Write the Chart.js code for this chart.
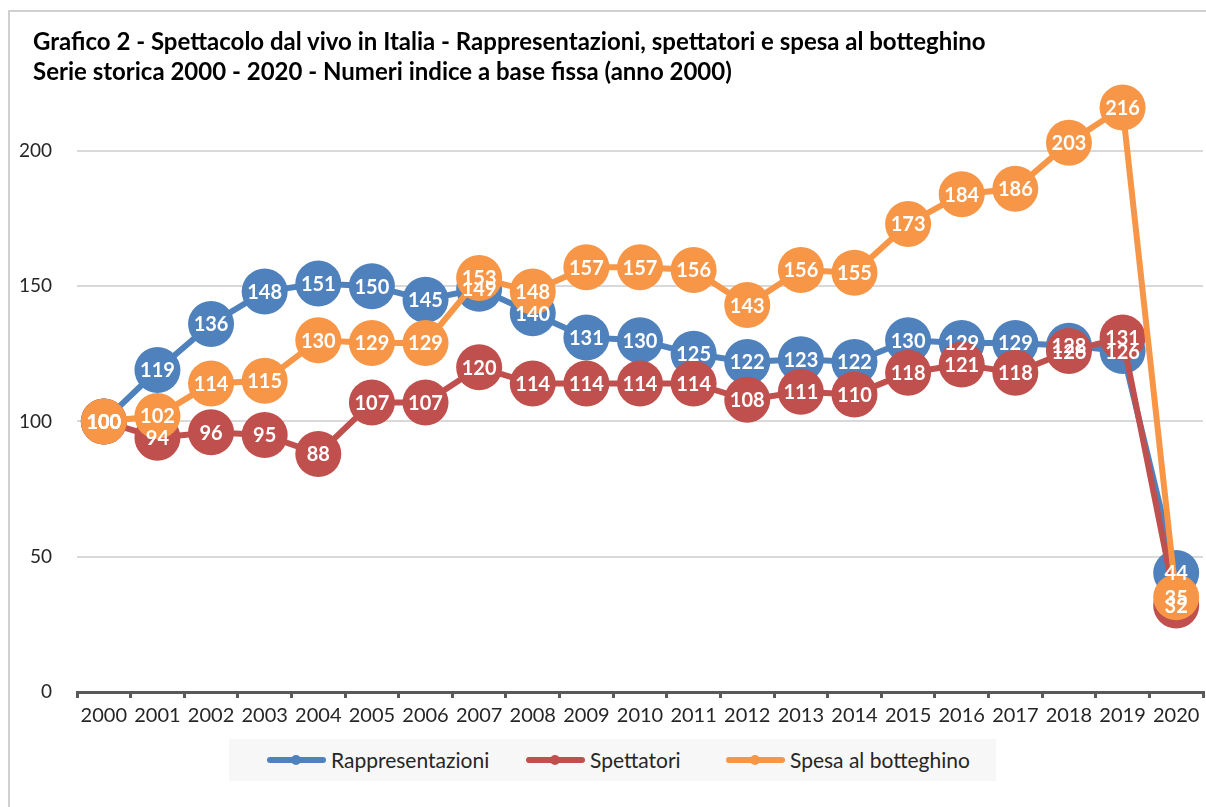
<!DOCTYPE html>
<html>
<head>
<meta charset="utf-8">
<script src="https://cdn.jsdelivr.net/npm/chart.js@4"></script>
<style>
  body { margin: 0; background: #fff; }
  #wrap { position: relative; width: 1206px; height: 807px; overflow: hidden; }
  #frame { position: absolute; left: 8px; top: 10px; width: 1300px; height: 900px;
           border-left: 2px solid #d0d0d0; border-top: 2px solid #d0d0d0; }
  #title { position: absolute; left: 33px; top: 26px; font-family: Lato, sans-serif;
           font-weight: bold; font-size: 24px; line-height: 30px; color: #000; z-index: 2;
           white-space: nowrap; }
  /* canvas shifted so the plot fills the frame like the original */
  canvas { position: absolute; left: 0; top: -10px; }
  #legend { position: absolute; left: 229px; top: 739px; width: 767px; height: 42px;
            background: #f7f7f7; font-family: Lato, sans-serif; font-size: 21px; color: #262626; }
  .item { position: absolute; top: 0; height: 42px; line-height: 42px; white-space: nowrap; }
  .mark { position: absolute; top: 18px; width: 59px; height: 6px; border-radius: 3px; }
  .mark i { position: absolute; left: 24px; top: -2px; width: 10px; height: 10px; border-radius: 5px; }
  .item span.txt { position: absolute; left: 64px; top: 0; }
</style>
</head>
<body>
<div id="wrap">
  <div id="frame"></div>
  <canvas id="lineChart" width="1226" height="817"></canvas>
  <div id="title">Grafico 2 - Spettacolo dal vivo in Italia - Rappresentazioni, spettatori e spesa al botteghino<br>Serie storica 2000 - 2020 - Numeri indice a base fissa (anno 2000)</div>
  <div id="legend"></div>
</div>
<script>
// anni sull'asse x
var years = ['2000','2001','2002','2003','2004','2005','2006','2007','2008','2009','2010',
             '2011','2012','2013','2014','2015','2016','2017','2018','2019','2020'];

// numeri indice (2000 = 100)
var rappresentazioni = [100,119,136,148,151,150,145,149,140,131,130,125,122,123,122,130,129,129,128,126,44];
var spettatori       = [100,94,96,95,88,107,107,120,114,114,114,114,108,111,110,118,121,118,126,131,32];
var spesaBotteghino  = [100,102,114,115,130,129,129,153,148,157,157,156,143,156,155,173,184,186,203,216,35];

var yTicks = [0, 50, 100, 150, 200];

// legend item x offsets inside the grey box
var legendOffsets = [38, 297, 497];

// Draws the white value inside each marker, after all series
var valueLabels = {
    id: 'valueLabels',
    afterDatasetsDraw: function(chart) {
        var ctx = chart.ctx;
        ctx.save();
        ctx.font = 'bold 20px Lato, sans-serif';
        ctx.fillStyle = '#ffffff';
        ctx.textAlign = 'center';
        ctx.textBaseline = 'middle';
        chart.data.datasets.forEach(function(ds, i) {
            chart.getDatasetMeta(i).data.forEach(function(pt, j) {
                ctx.fillText(ds.data[j], pt.x, pt.y + 1);
            });
        });
        ctx.restore();
    }
};

function makeSet(label, data, color, order) {
    return {
        label: label,
        data: data,
        borderColor: color,
        backgroundColor: color,
        pointBackgroundColor: color,
        pointBorderColor: color,
        borderWidth: 6,
        pointRadius: 23,
        pointHoverRadius: 23,
        pointBorderWidth: 0,
        tension: 0,
        clip: false,
        order: order
    };
}

function buildLegend(chart) {
    var box = document.getElementById('legend');
    chart.data.datasets.forEach(function(ds, i) {
        var item = document.createElement('div');
        item.className = 'item';
        item.style.left = legendOffsets[i] + 'px';
        var mark = document.createElement('div');
        mark.className = 'mark';
        mark.style.background = ds.borderColor;
        var dot = document.createElement('i');
        dot.style.background = ds.borderColor;
        mark.appendChild(dot);
        var txt = document.createElement('span');
        txt.className = 'txt';
        txt.textContent = ds.label;
        item.appendChild(mark);
        item.appendChild(txt);
        box.appendChild(item);
    });
}

function initializeChart() {
    var ctx = document.getElementById('lineChart').getContext('2d');
    var chart = new Chart(ctx, {
        type: 'line',
        data: {
            labels: years,
            datasets: [
                makeSet('Rappresentazioni', rappresentazioni, '#4F81BD', 3),
                makeSet('Spettatori', spettatori, '#C0504D', 2),
                makeSet('Spesa al botteghino', spesaBotteghino, '#F79646', 1)
            ]
        },
        options: {
            responsive: false,
            animation: false,
            layout: { padding: { top: 0, right: 0, left: 0, bottom: 69 } },
            plugins: {
                tooltip: { enabled: false },
                legend: { display: false }
            },
            scales: {
                x: {
                    offset: true,
                    grid: {
                        offset: true,
                        drawOnChartArea: false,
                        drawTicks: true,
                        tickLength: 6,
                        color: '#595959',
                        lineWidth: 3
                    },
                    border: { color: '#595959', width: 3 },
                    ticks: {
                        color: '#262626',
                        padding: 6,
                        maxRotation: 0,
                        autoSkip: false,
                        font: { family: 'Lato, sans-serif', size: 20 }
                    },
                    afterFit: function(scale) { scale.height = 46; }
                },
                y: {
                    min: 0,
                    max: 250,
                    afterBuildTicks: function(scale) {
                        scale.ticks = yTicks.concat([250]).map(function(v) { return { value: v }; });
                    },
                    grid: {
                        drawTicks: false,
                        lineWidth: 2,
                        color: function(c) {
                            if (c.tick && (c.tick.value === 250 || c.tick.value === 0)) return 'rgba(0,0,0,0)';
                            return '#d9d9d9';
                        }
                    },
                    border: { display: false },
                    ticks: {
                        color: '#262626',
                        padding: 25,
                        font: function(c) {
                            if (c.tick && c.tick.value === 250) return { family: 'Lato, sans-serif', size: 1 };
                            return { family: 'Lato, sans-serif', size: 19 };
                        },
                        callback: function(v) { return v === 250 ? '' : v; }
                    },
                    afterFit: function(scale) { scale.width = 77; }
                }
            }
        },
        plugins: [valueLabels]
    });
    buildLegend(chart);
}

document.addEventListener('DOMContentLoaded', initializeChart);
</script>
</body>
</html>
